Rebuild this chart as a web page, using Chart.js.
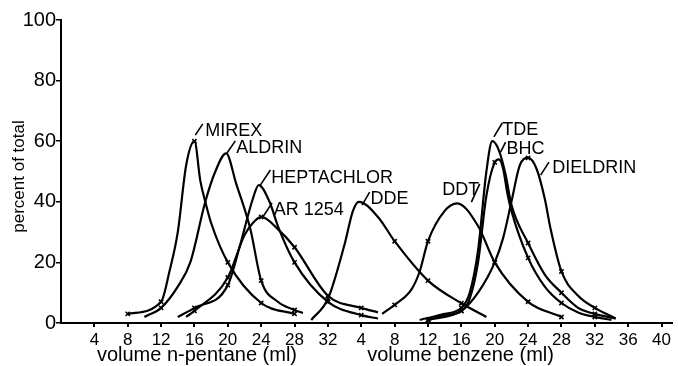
<!DOCTYPE html>
<html>
<head>
<meta charset="utf-8">
<script src="https://cdn.jsdelivr.net/npm/chart.js@4.4.1/dist/chart.umd.min.js"></script>
<style>
  html, body { margin: 0; padding: 0; background: #fff; }
  #wrap { width: 678px; height: 366px; }
</style>
</head>
<body>
<div id="wrap"><canvas id="elution"></canvas></div>
<script>
/*************************************************
 * DATA
 * one running x axis: 0-32 = ml n-pentane,
 * after that benzene restarts (benzene b -> 32 + b)
 *************************************************/
const xTickValues = [4, 8, 12, 16, 20, 24, 28, 32, 36, 40, 44, 48, 52, 56, 60, 64, 68, 72];
const xTickLabels = ["4", "8", "12", "16", "20", "24", "28", "32",
                     "4", "8", "12", "16", "20", "24", "28", "32", "36", "40"];
const yTickValues = [0, 20, 40, 60, 80, 100];

const mirex      = [[8,3],[12,7],[13,17],[14,30],[15,52],[16,60],[16.7,47],[17.3,40],[18,33],[20,20],[24,6.6],[28,3]];
const aldrin     = [[10,2],[12,5],[14,12],[15.5,20],[17.3,40],[18.5,50],[19.8,56],[21,46],[22.7,31],[24,14],[26,7],[28,4.3],[29,3.3]];
const heptachlor = [[14,2],[16,5],[20,12.5],[21.5,26],[23,41],[23.7,45.5],[25,40],[26,32],[28,20],[32,7],[36,2.6],[38,1.5]];
const ar1254     = [[15,2],[16,4],[20,15],[22,29],[23,33],[24,35],[26,31],[28,25],[32,9],[36,5],[38,3.5]];
const dde        = [[30,1],[32,8],[34,26],[35,37],[35.7,40],[38,35],[40,27],[44,14],[48,6.5],[51,2]];
const ddt        = [[38.5,3],[40,6],[42,11],[43,17],[44,27],[46,37],[47.5,39.5],[50,32],[52,20],[56,7],[60,2]];
const tde        = [[43,1],[46,3],[48,5],[49,10],[50,24],[51,50],[51.7,60],[52.5,57],[53.3,49],[54,39],[56,26.4],[58,16],[60,10],[62,5],[64,3],[66.5,1.5]];
const bhc        = [[44,1],[46,2.5],[48,4],[49,8],[50,20],[51,42],[52,53],[52.5,54],[53,51],[53.5,43],[54,37],[56,21.5],[58,12],[60,6.6],[62,3.5],[64,2],[66,1]];
const dieldrin   = [[44,1],[48,4],[50,10],[52,20],[53,28],[54,40],[55,52],[56,54.5],[57,51],[58,41],[58.7,31],[60,17],[62,9],[64,5],[66.5,1.5]];

const seriesNames = ["MIREX", "ALDRIN", "HEPTACHLOR", "AR 1254", "DDE", "DDT", "TDE", "BHC", "DIELDRIN"];
const seriesData  = [mirex, aldrin, heptachlor, ar1254, dde, ddt, tde, bhc, dieldrin];

/*************************************************
 * LABEL PLACEMENT (data units)
 *************************************************/
const FONT = "'Liberation Sans', Arial, sans-serif";
const peakNotes = [
  { text: "MIREX",      tx: 17.3, ty: 63.4, s: [16.1, 62.0, 17.0, 65.7] },
  { text: "ALDRIN",     tx: 21.0, ty: 57.8, s: [19.9, 56.1, 20.9, 60.1] },
  { text: "HEPTACHLOR", tx: 25.2, ty: 47.9, s: [23.9, 45.5, 25.1, 50.5] },
  { text: "AR 1254",    tx: 25.5, ty: 37.3, s: [24.2, 35.0, 25.3, 39.6] },
  { text: "DDE",        tx: 37.1, ty: 40.9, s: [36.1, 38.9, 37.0, 43.2] },
  { text: "DDT",        tx: 45.7, ty: 43.9, s: [50.2, 45.9, 49.2, 39.9] },
  { text: "TDE",        tx: 52.9, ty: 63.7, s: [51.9, 61.4, 52.9, 66.0] },
  { text: "BHC",        tx: 53.4, ty: 57.4, s: [52.7, 56.4, 53.3, 59.7] },
  { text: "DIELDRIN",   tx: 58.9, ty: 51.2, s: [57.5, 48.8, 58.5, 53.1] }
];

const notesPlugin = {
  id: "notes",
  afterDraw(chart) {
    const c = chart.ctx;
    const x = chart.scales.x, y = chart.scales.y;
    const area = chart.chartArea;
    c.save();
    c.fillStyle = "#000";
    c.strokeStyle = "#000";
    c.lineWidth = 1.6;
    c.font = "18px " + FONT;
    c.textBaseline = "middle";
    c.textAlign = "left";
    peakNotes.forEach(n => {
      c.beginPath();
      c.moveTo(x.getPixelForValue(n.s[0]), y.getPixelForValue(n.s[1]));
      c.lineTo(x.getPixelForValue(n.s[2]), y.getPixelForValue(n.s[3]));
      c.stroke();
      c.fillText(n.text, x.getPixelForValue(n.tx), y.getPixelForValue(n.ty));
    });

    // axis titles
    c.font = "20px " + FONT;
    c.textAlign = "center";
    c.fillText("volume n-pentane (ml)", x.getPixelForValue(16.3), area.bottom + 32);
    c.fillText("volume benzene (ml)", x.getPixelForValue(47.9), area.bottom + 32);

    c.font = "17px " + FONT;
    c.translate(19, (area.top + area.bottom) / 2 + 5);
    c.rotate(-Math.PI / 2);
    c.fillText("percent of total", 0, 0);
    c.restore();
  }
};

/*************************************************
 * CHART
 *************************************************/
const datasets = seriesData.map((pts, i) => ({
  label: seriesNames[i],
  data: pts.map(p => ({ x: p[0], y: p[1] })),
  borderColor: "#000",
  borderWidth: 2.2,
  fill: false,
  cubicInterpolationMode: "monotone",
  pointStyle: "crossRot",
  pointBorderColor: "#000",
  pointBorderWidth: 1.6,
  pointRadius: ctx => (ctx.raw && ctx.raw.x % 4 === 0 ? 3 : 0)
}));

new Chart(document.getElementById("elution"), {
  type: "line",
  data: { datasets },
  options: {
    responsive: true,
    maintainAspectRatio: false,
    devicePixelRatio: 1,
    animation: false,
    layout: { padding: { top: 20, right: 5, left: 0, bottom: 0 } },
    plugins: { legend: { display: false }, tooltip: { enabled: false } },
    scales: {
      x: {
        type: "linear",
        min: 0,
        max: 73.3,
        afterBuildTicks: s => { s.ticks = xTickValues.map(v => ({ value: v })); },
        afterFit: s => { s.height = 43; },
        border: { color: "#000", width: 2 },
        grid: { drawOnChartArea: false, drawTicks: true, tickLength: 4, color: "#000", lineWidth: 2 },
        ticks: {
          color: "#000",
          padding: 3,
          maxRotation: 0,
          autoSkip: false,
          font: { family: FONT, size: 17 },
          callback: v => {
            const i = xTickValues.indexOf(v);
            return i >= 0 ? xTickLabels[i] : "";
          }
        }
      },
      y: {
        min: 0,
        max: 100,
        afterBuildTicks: s => { s.ticks = yTickValues.map(v => ({ value: v })); },
        afterFit: s => { s.width = 61; },
        border: { color: "#000", width: 2 },
        grid: { drawOnChartArea: false, drawTicks: true, tickLength: 5, color: "#000", lineWidth: 1.5 },
        ticks: {
          color: "#000",
          padding: 0,
          font: { family: FONT, size: 20 }
        }
      }
    }
  },
  plugins: [notesPlugin]
});
</script>
</body>
</html>
